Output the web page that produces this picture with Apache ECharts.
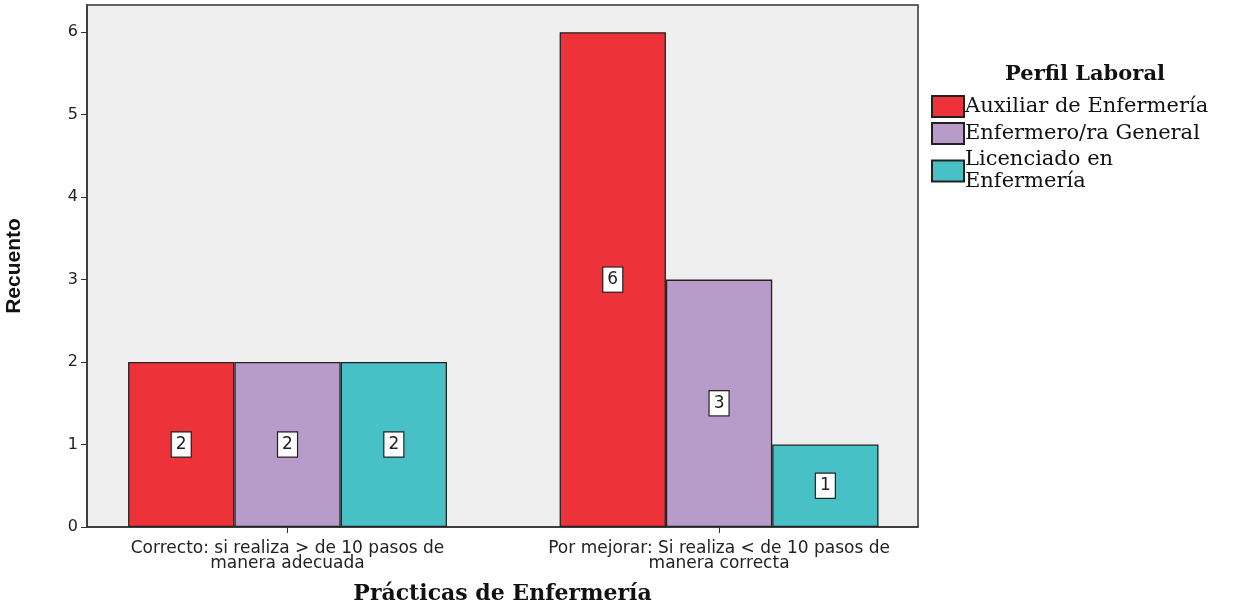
<!DOCTYPE html>
<html>
<head>
<meta charset="utf-8">
<script src="https://cdn.jsdelivr.net/npm/echarts@6/dist/echarts.min.js"></script>
<style>
  html, body { margin: 0; padding: 0; background: #ffffff; }
  #chart { width: 1242px; height: 604px; }
</style>
</head>
<body>
<div id="chart"></div>
<script>
// Practices categories on the x axis
const categories = [
  'Correcto: si realiza > de 10 pasos de\nmanera adecuada',
  'Por mejorar: Si realiza < de 10 pasos de\nmanera correcta'
];
// Counts per work profile
const auxiliar = [2, 6];
const enfermeroGeneral = [2, 3];
const licenciado = [2, 1];
const seriesNames = ['Auxiliar de Enfermería', 'Enfermero/ra General', 'Licenciado en Enfermería'];
const yTicks = [0, 1, 2, 3, 4, 5, 6];

const colors = ['#EE3239', '#B79BC8', '#48C1C6'];
const sans = 'DejaVu Sans';
const serif = 'DejaVu Serif';

// Category positions along the horizontal axis (one slot per category)
const catIndex = categories.map(function (c, i) { return i; });

const chart = echarts.init(document.getElementById('chart'), null, { renderer: 'canvas' });

function barSeries(name, data, color) {
  return {
    name: name,
    type: 'bar',
    data: data.map(function (v, i) { return [catIndex[i], v]; }),
    barWidth: 106.3,
    barGap: '0%',
    itemStyle: { color: color, borderColor: '#222', borderWidth: 1.3 },
    label: {
      show: true,
      position: 'inside',
      color: '#222',
      fontFamily: sans,
      fontSize: 17,
      formatter: function (p) { return p.value[1]; },
      backgroundColor: '#ffffff',
      borderColor: '#222',
      borderWidth: 1.2,
      padding: [4, 4, 3, 4]
    },
    emphasis: { disabled: true }
  };
}

chart.setOption({
  animation: false,
  title: {
    text: 'Perfil Laboral',
    left: 1080,
    textAlign: 'center',
    top: 59,
    textStyle: { fontFamily: serif, fontWeight: 'bold', fontSize: 21, color: '#111' }
  },
  legend: {
    orient: 'vertical',
    left: 926,
    top: 90,
    icon: 'rect',
    itemWidth: 32,
    itemHeight: 21,
    itemGap: 4,
    data: seriesNames,
    formatter: function (n) { return n === 'Licenciado en Enfermería' ? 'Licenciado en\nEnfermería' : n; },
    textStyle: { fontFamily: serif, fontSize: 21, color: '#111', lineHeight: 22, padding: [0, 0, 0, -4] }
  },
  grid: {
    left: 87, right: 324, top: 5, bottom: 77,
    outerBoundsMode: 'none',
    containLabel: false,
    show: true,
    backgroundColor: '#EFEFEF',
    borderColor: '#333',
    borderWidth: 1.5
  },
  xAxis: {
    type: 'value',
    min: -0.4647,
    max: 1.461,
    name: 'Prácticas de Enfermería',
    nameLocation: 'middle',
    nameGap: 56,
    nameTextStyle: { fontFamily: serif, fontWeight: 'bold', fontSize: 22, color: '#111' },
    splitLine: { show: false },
    axisLine: { show: true, onZero: false, lineStyle: { color: '#333', width: 1.5 } },
    axisTick: { show: true, length: 6, customValues: catIndex, lineStyle: { color: '#333' } },
    axisLabel: {
      fontFamily: sans, fontSize: 17, color: '#222', lineHeight: 15, margin: 14,
      customValues: catIndex,
      formatter: function (v) { return categories[Math.round(v)]; }
    }
  },
  yAxis: {
    type: 'value',
    min: 0,
    max: 6.33,
    name: 'Recuento',
    nameLocation: 'middle',
    nameGap: 62,
    nameTextStyle: { fontFamily: 'Liberation Sans', fontWeight: 'bold', fontSize: 21, color: '#111' },
    splitLine: { show: false },
    axisLine: { show: true, onZero: false, lineStyle: { color: '#333', width: 1.5 } },
    axisTick: { show: true, length: 6, customValues: yTicks, lineStyle: { color: '#333' } },
    axisLabel: { fontFamily: sans, fontSize: 16, color: '#222', margin: 9, customValues: yTicks }
  },
  series: [
    barSeries(seriesNames[0], auxiliar, colors[0]),
    barSeries(seriesNames[1], enfermeroGeneral, colors[1]),
    barSeries(seriesNames[2], licenciado, colors[2])
  ]
});
</script>
</body>
</html>
